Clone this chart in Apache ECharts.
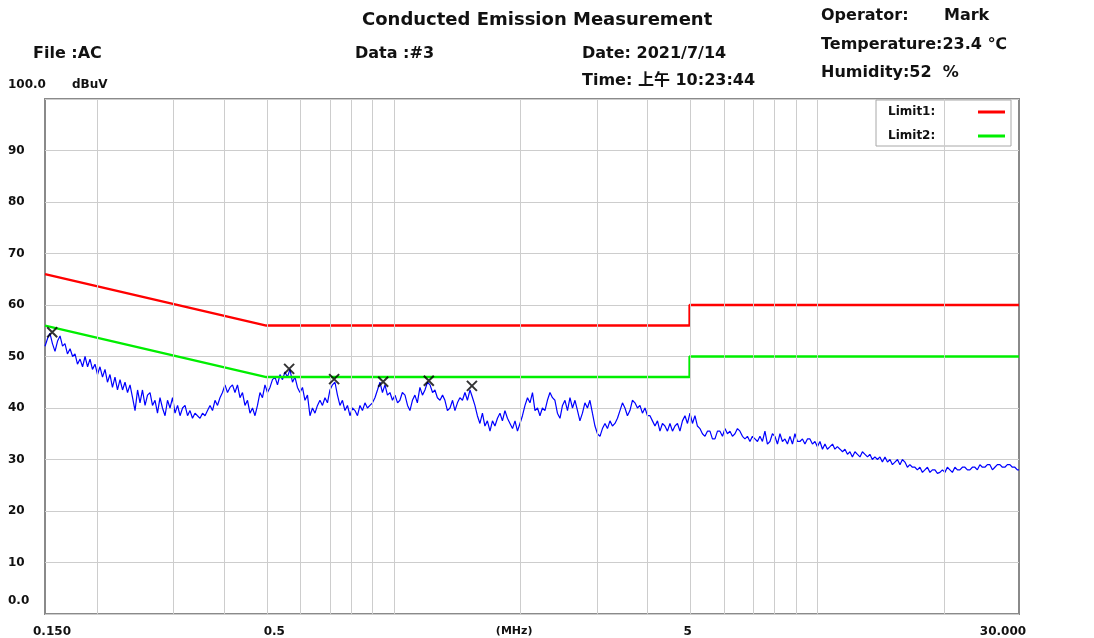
<!DOCTYPE html>
<html>
<head>
<meta charset="utf-8">
<script src="https://cdn.jsdelivr.net/npm/echarts@6/dist/echarts.min.js"></script>
<style>
	html, body { margin: 0; padding: 0; background: #fff; }
	#chart { width: 1094px; height: 638px; }
</style>
</head>
<body>
<div id="chart"></div>
<script>
// scan trace, MHz / dBuV
const traceFreqs = [
	0.150,0.1521,0.1541,0.1562,0.1584,0.1606,0.1628,0.1650,0.1672,0.1695,
	0.1719,0.1743,0.1766,0.1790,0.1815,0.1840,0.1865,0.1891,0.1916,0.1942,
	0.1969,0.1996,0.2023,0.2051,0.2079,0.2107,0.2136,0.2165,0.2195,0.2225,
	0.2256,0.2287,0.2318,0.2350,0.2382,0.2415,0.2448,0.2482,0.2515,0.2549,
	0.2585,0.2620,0.2656,0.2692,0.2729,0.2766,0.2804,0.2842,0.2882,0.2921,
	0.2961,0.3002,0.3043,0.3085,0.3127,0.3170,0.3213,0.3257,0.3301,0.3346,
	0.3392,0.3438,0.3486,0.3534,0.3582,0.3631,0.3681,0.3731,0.3782,0.3834,
	0.3886,0.3939,0.3993,0.4048,0.4103,0.4159,0.4216,0.4274,0.4333,0.4392,
	0.4452,0.4513,0.4575,0.4638,0.4701,0.4765,0.4830,0.4896,0.4963,0.5031,
	0.5100,0.5170,0.5241,0.5313,0.5385,0.5459,0.5533,0.5609,0.5686,0.5764,
	0.5843,0.5923,0.6004,0.6086,0.6170,0.6254,0.6340,0.6427,0.6515,0.6604,
	0.6694,0.6786,0.6879,0.6973,0.7068,0.7165,0.7263,0.7362,0.7463,0.7565,
	0.7669,0.7774,0.7880,0.7988,0.8098,0.8209,0.8321,0.8435,0.8550,0.8667,
	0.8786,0.8906,0.9028,0.9152,0.9277,0.9404,0.9533,0.9664,0.9796,0.9930,
	1.007,1.021,1.034,1.048,1.063,1.078,1.092,1.107,1.122,1.137,
	1.153,1.169,1.185,1.201,1.218,1.235,1.251,1.268,1.286,1.304,
	1.321,1.339,1.358,1.377,1.395,1.414,1.433,1.453,1.473,1.493,
	1.514,1.535,1.555,1.576,1.598,1.620,1.642,1.664,1.688,1.711,
	1.734,1.758,1.782,1.806,1.831,1.856,1.882,1.908,1.934,1.960,
	1.987,2.014,2.042,2.070,2.098,2.127,2.156,2.186,2.215,2.245,
	2.276,2.307,2.339,2.371,2.403,2.436,2.470,2.504,2.538,2.573,
	2.608,2.644,2.680,2.717,2.753,2.791,2.829,2.868,2.907,2.947,
	2.988,3.029,3.070,3.112,3.155,3.198,3.242,3.286,3.331,3.377,
	3.423,3.470,3.517,3.565,3.614,3.663,3.714,3.765,3.816,3.868,
	3.922,3.976,4.030,4.085,4.141,4.198,4.255,4.313,4.372,4.432,
	4.493,4.555,4.617,4.680,4.744,4.809,4.875,4.942,5.009,5.078,
	5.147,5.217,5.289,5.361,5.435,5.509,5.585,5.661,5.739,5.818,
	5.897,5.978,6.060,6.143,6.227,6.312,6.398,6.486,6.575,6.665,
	6.756,6.848,6.942,7.037,7.134,7.232,7.330,7.430,7.532,7.635,
	7.740,7.846,7.953,8.062,8.173,8.285,8.398,8.513,8.630,8.748,
	8.867,8.988,9.112,9.237,9.363,9.491,9.621,9.753,9.886,10.02,
	10.16,10.30,10.44,10.58,10.73,10.88,11.02,11.17,11.33,11.49,
	11.64,11.80,11.96,12.12,12.29,12.46,12.63,12.80,12.98,13.16,
	13.33,13.51,13.70,13.89,14.08,14.27,14.47,14.67,14.87,15.07,
	15.28,15.49,15.70,15.91,16.13,16.35,16.57,16.80,17.03,17.26,
	17.50,17.74,17.98,18.23,18.48,18.73,18.99,19.25,19.51,19.78,
	20.05,20.32,20.60,20.88,21.17,21.46,21.75,22.05,22.35,22.66,
	22.97,23.28,23.60,23.92,24.25,24.58,24.92,25.26,25.61,25.96,
	26.31,26.67,27.04,27.41,27.78,28.16,28.55,28.94,29.33,29.73,
	30.00
];
const traceLevels = [
	52.0,53.5,54.5,52.5,51.0,53.0,54.0,52.0,52.5,50.5,
	51.5,50.0,50.5,48.5,49.5,48.0,50.0,48.0,49.5,47.5,
	48.5,46.5,48.0,46.0,47.5,45.0,46.5,44.0,46.0,43.5,
	45.5,43.5,45.0,43.0,44.5,42.0,39.5,43.5,41.0,43.5,
	40.5,42.5,43.0,40.5,41.5,39.0,42.0,40.0,38.5,41.5,
	40.0,42.0,39.0,40.5,38.5,40.0,40.5,38.5,39.5,38.0,
	39.0,38.5,38.0,39.0,38.5,39.5,40.5,39.5,41.5,40.5,
	42.0,43.0,44.5,43.0,44.0,44.5,43.0,44.5,42.0,43.0,
	40.5,41.5,39.0,40.0,38.5,40.5,43.0,42.0,44.5,43.0,
	44.0,45.5,46.0,44.5,46.5,45.5,47.0,46.0,47.5,45.0,
	46.0,44.0,43.0,44.0,41.5,42.5,38.5,40.0,39.0,40.5,
	41.5,40.5,42.0,41.0,43.5,44.5,45.0,42.5,40.5,41.5,
	39.5,40.5,38.5,40.0,39.5,38.5,40.5,39.5,41.0,40.0,
	40.5,41.0,42.0,43.5,45.0,43.0,44.5,42.5,43.0,41.5,
	42.5,41.0,41.5,43.0,42.5,40.5,39.5,41.5,42.5,41.0,
	44.0,42.5,43.5,45.0,44.5,43.0,43.5,42.0,41.5,42.5,
	41.5,39.5,40.0,41.5,39.5,41.0,42.0,41.5,43.0,41.5,
	43.5,42.0,40.5,38.5,37.0,39.0,36.5,37.5,35.5,37.5,
	36.5,38.0,39.0,37.5,39.5,38.0,37.0,36.0,37.5,35.5,
	37.0,38.5,40.5,42.0,41.0,43.0,39.5,40.0,38.5,40.0,
	39.5,41.5,43.0,42.0,41.5,39.0,38.0,40.5,41.5,39.5,
	42.0,40.0,41.5,39.5,37.5,39.0,41.0,40.0,41.5,39.0,
	36.5,35.0,34.5,36.0,37.0,36.0,37.5,36.5,37.0,38.0,
	39.5,41.0,40.0,38.5,39.5,41.5,41.0,40.0,40.5,39.0,
	40.0,38.5,38.5,37.5,36.5,37.5,35.5,37.0,36.5,35.5,
	37.0,35.5,36.5,37.0,35.5,37.5,38.5,37.0,39.0,37.0,
	38.5,36.5,36.0,35.0,34.5,35.5,35.5,34.0,34.0,35.5,
	35.5,34.5,36.0,35.0,35.5,34.5,35.0,36.0,35.5,34.5,
	34.0,34.5,33.5,34.5,34.0,33.5,34.5,33.5,35.5,33.0,
	33.5,35.0,34.5,33.0,35.0,33.5,34.0,33.0,34.5,33.0,
	35.0,33.5,33.5,34.0,33.0,34.0,34.0,33.0,33.5,32.5,
	33.5,32.0,33.0,32.0,32.5,33.0,32.0,32.5,32.0,31.5,
	32.0,31.0,31.5,30.5,31.5,31.0,30.5,31.5,31.0,30.5,
	31.0,30.0,30.5,30.0,30.5,29.5,30.5,29.5,30.0,29.0,
	29.5,30.0,29.0,30.0,29.5,28.5,29.0,28.5,28.5,28.0,
	28.5,27.5,28.0,28.5,27.5,28.0,28.0,27.3,27.5,28.0,
	27.5,28.5,28.0,27.5,28.5,28.0,28.0,28.5,28.5,28.0,
	28.0,28.5,28.5,28.0,29.0,28.5,28.5,29.0,29.0,28.0,
	28.5,29.0,29.0,28.5,28.5,29.0,29.0,28.5,28.5,28.0,
	28.0
];

// limit lines
const limitFreqs = [0.15, 0.5, 5, 5, 30];
const limit1 = [66, 56, 56, 60, 60];
const limit2 = [56, 46, 46, 50, 50];

// marked peaks
const peakFreqs = [0.156, 0.566, 0.723, 0.944, 1.21, 1.53];
const peakLevels = [54.7, 47.6, 45.6, 45.1, 45.3, 44.3];

// axis
const gridFreqs = [0.2, 0.3, 0.4, 0.5, 0.6, 0.7, 0.8, 0.9, 1, 2, 3, 4, 5, 6, 7, 8, 9, 10, 20];
const xLabelFreqs = [0.15, 0.5, 2, 5, 30];
const xLabelTexts = ['0.150', '0.5', '(MHz)', '5', '30.000'];
const xLabelStyles = ['a', 'b', 'c', 'd', 'e'];

const FONT = '"DejaVu Sans", "Noto Sans CJK SC", sans-serif';
const lg = Math.log10;

function pairs(xs, ys) {
	return xs.map((f, i) => [lg(f), ys[i]]);
}

function head(text, left, top, size, weight) {
	return {
		text: text, left: left, top: top, padding: 0,
		textStyle: { fontFamily: FONT, fontSize: size, fontWeight: weight || 'bold', color: '#111' }
	};
}

const axisFont = { fontFamily: FONT, fontSize: 12, fontWeight: 'bold', color: '#111' };

const option = {
	animation: false,
	backgroundColor: '#fff',
	title: [
		head('Conducted Emission Measurement', 362, 11, 18),
		head('File :AC', 33, 46, 16),
		head('Data :#3', 355, 46, 16),
		head('Date: 2021/7/14', 582, 46, 16),
		head('Time: 上午 10:23:44', 582, 73, 16),
		head('Operator:', 821, 8, 16),
		head('Mark', 944, 8, 16),
		head('Temperature:23.4 ℃', 821, 37, 16),
		head('Humidity:52  %', 821, 65, 16),
		head('dBuV', 72, 79, 12)
	],
	legend: {
		orient: 'vertical',
		left: 876,
		top: 100,
		align: 'right',
		itemWidth: 27,
		itemHeight: 3,
		itemGap: 12,
		padding: [6, 6, 4, 12],
		borderColor: '#a8a8a8',
		borderWidth: 1,
		backgroundColor: '#fff',
		selectedMode: false,
		icon: 'rect',
		data: ['Limit1', 'Limit2'],
		formatter: name => '{t|' + name + ':}',
		textStyle: {
			rich: { t: { width: 85, align: 'left', fontFamily: FONT, fontSize: 12, fontWeight: 'bold', color: '#111' } }
		}
	},
	grid: {
		left: 45, right: 75, top: 99, bottom: 22,
		show: true,
		borderColor: '#8a8a8a',
		borderWidth: 2,
		backgroundColor: '#fff'
	},
	xAxis: {
		type: 'value',
		min: lg(0.15),
		max: lg(30),
		axisLine: { show: false },
		axisTick: { show: false },
		splitLine: { show: false },
		axisLabel: {
			customValues: xLabelFreqs.map(lg),
			margin: 12,
			formatter: v => {
				const i = xLabelFreqs.findIndex(f => Math.abs(lg(f) - v) < 1e-6);
				return i < 0 ? '' : '{' + xLabelStyles[i] + '|' + xLabelTexts[i] + '}';
			},
			rich: {
				a: Object.assign({ padding: [0, 0, 0, 14] }, axisFont),
				b: Object.assign({ padding: [0, 0, 0, 16] }, axisFont),
				c: Object.assign({ padding: [0, 14, 0, 0] }, axisFont, { fontSize: 11 }),
				d: Object.assign({ padding: [0, 4, 0, 0] }, axisFont),
				e: Object.assign({ padding: [0, 32, 0, 0] }, axisFont)
			}
		}
	},
	yAxis: {
		type: 'value',
		min: 0,
		max: 100,
		interval: 10,
		axisLine: { show: false },
		axisTick: { show: false },
		splitLine: { lineStyle: { color: '#cdcdcd', width: 1 } },
		axisLabel: Object.assign({
			align: 'left',
			margin: 37,
			formatter: v => v === 0 ? '{lo|0.0}' : (v === 100 ? '{hi|100.0}' : String(v)),
			rich: {
				lo: Object.assign({ padding: [0, 0, 26, 0] }, axisFont),
				hi: Object.assign({ padding: [0, 0, 28, 0] }, axisFont)
			}
		}, axisFont)
	},
	series: [
		{
			// vertical grid lines
			type: 'line',
			data: [],
			silent: true,
			z: 1,
			markLine: {
				silent: true,
				symbol: ['none', 'none'],
				label: { show: false },
				lineStyle: { color: '#cdcdcd', width: 1, type: 'solid' },
				emphasis: { disabled: true },
				data: gridFreqs.map(f => ({ xAxis: lg(f) }))
			}
		},
		{
			name: 'Trace',
			type: 'line',
			data: pairs(traceFreqs, traceLevels),
			showSymbol: false,
			lineStyle: { color: '#0000ff', width: 1.2 },
			z: 3
		},
		{
			name: 'Limit1',
			type: 'line',
			data: pairs(limitFreqs, limit1),
			showSymbol: false,
			color: '#ff0000',
			lineStyle: { color: '#ff0000', width: 2.5 },
			z: 4
		},
		{
			name: 'Limit2',
			type: 'line',
			data: pairs(limitFreqs, limit2),
			showSymbol: false,
			color: '#00ee00',
			lineStyle: { color: '#00ee00', width: 2.5 },
			z: 4
		},
		{
			name: 'Peaks',
			type: 'scatter',
			data: pairs(peakFreqs, peakLevels),
			symbol: 'path://M0,0L10,10M10,0L0,10',
			symbolSize: 10,
			itemStyle: { color: 'rgba(0,0,0,0)', borderColor: '#000', borderWidth: 2 },
			z: 5
		}
	]
};

const chart = echarts.init(document.getElementById('chart'));
chart.setOption(option);
</script>
</body>
</html>
